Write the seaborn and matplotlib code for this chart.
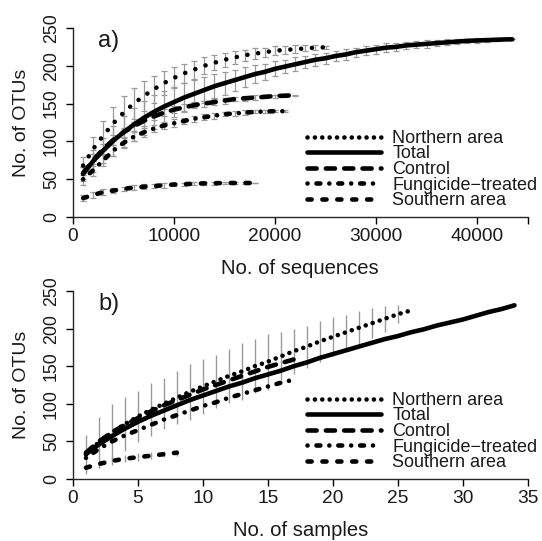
import numpy as np
import pandas as pd
import matplotlib
matplotlib.use("Agg")
import matplotlib.pyplot as plt
from matplotlib.lines import Line2D
import seaborn as sns

# ---- a) OTUs vs. number of sequences (rarefaction) ----
seq_total = list(range(1000, 44000, 1000)) + [43500]
otu_total = [57, 74, 88, 101, 112, 122, 131, 139, 146, 152, 158, 163, 168, 173, 177,
             181, 185, 189, 192, 196, 199, 202, 205, 208, 210, 213, 215, 218, 220, 222,
             224, 225, 227, 228, 229, 230, 231, 232, 233, 233.5, 234, 234.5, 235, 235]
sd_total = [9, 14, 17, 20, 21, 22, 22, 22, 21, 20, 19, 18, 17, 16, 15, 14, 13, 12, 11, 10,
            9, 9, 8, 8, 7, 7, 7, 6, 6, 6, 6, 5, 5, 5, 5, 4, 4, 3, 3, 3, 2, 2, 1, 0]

seq_north = list(range(1000, 26000, 1000))
otu_north = [68, 90, 108, 124, 138, 150, 160, 169, 177, 184, 190, 195, 200, 204, 208,
             211, 214, 216, 218, 220, 221, 222, 223, 224, 224.5]
sd_north = [12, 16, 19, 21, 22, 21, 20, 18, 16, 14, 13, 12, 11, 10, 9, 8, 7, 7, 6, 6,
            5, 5, 4, 3, 2]

seq_control = list(range(1000, 23000, 1000))
otu_control = [58, 75, 90, 102, 112, 120, 127, 133, 138, 142, 145, 148, 150, 152, 154,
               156, 157, 158, 159, 160, 160.5, 161]
sd_control = [8, 8, 7, 7, 6, 6, 6, 5, 5, 5, 5, 4, 4, 4, 4, 3, 3, 3, 2, 2, 2, 1]

seq_fung = list(range(1000, 22000, 1000))
otu_fung = [50, 62, 75, 88, 98, 106, 112, 117, 121, 124, 127, 130, 132, 134, 136,
            137, 138, 139, 139.5, 140, 140]
sd_fung = [8, 8, 7, 7, 6, 6, 6, 5, 5, 5, 4, 4, 4, 4, 3, 3, 3, 2, 2, 1, 1]

seq_south = list(range(1000, 19000, 1000))
otu_south = [25, 29, 33, 35, 37, 39, 40, 41, 42, 43, 43.5, 44, 44.5, 44.7, 45, 45, 45, 45]
sd_south = [4, 4, 4, 3, 3, 3, 3, 3, 3, 2, 2, 2, 2, 2, 1, 1, 1, 0]

# ---- b) OTUs vs. number of samples ----
smp_total = list(range(1, 35))
otub_total = [33, 46, 57, 67, 76, 84, 91, 98, 105, 111, 117, 123, 128, 134, 139, 144, 150,
              155, 161, 166, 171, 176, 181, 186, 190, 195, 199, 204, 208, 212, 217, 222,
              226, 231]

smp_north = list(range(1, 27))
otub_north = [33, 49, 62, 73, 83, 92, 100, 108, 116, 123, 130, 137, 143, 150, 156, 163,
              170, 176, 183, 189, 195, 201, 207, 213, 219, 224]
sdb_north = [26, 34, 38, 36, 34, 35, 34, 35, 37, 36, 35, 36, 38, 36, 37, 32, 30, 28, 27,
             26, 23, 22, 20, 17, 12, np.nan]

smp_control = list(range(1, 18))
otub_control = [35, 50, 62, 72, 81, 90, 98, 105, 112, 119, 125, 131, 137, 143, 149, 154, 159]

smp_fung = list(range(1, 18))
otub_fung = [28, 40, 50, 58, 65, 72, 79, 85, 91, 97, 102, 108, 113, 118, 123, 128, 132]

smp_south = list(range(1, 9))
otub_south = [15, 20, 24, 27, 29, 31, 33, 35]
sdb_south = [5, 5, 5, 5, 5, 5, 4, 4]

groups = ["Northern area", "Total", "Control", "Fungicide\u2212treated", "Southern area"]
dash_map = {
    "Northern area": (0.01, 1.6),
    "Total": "",
    "Control": (2.0, 2.0),
    "Fungicide\u2212treated": (0.01, 1.95, 0.85, 1.95),
    "Southern area": (0.9, 2.35),
}
# in panel a the northern-area points sit at every 1000 sequences
dash_map_a = dict(dash_map)
dash_map_a["Northern area"] = (0.01, 2.35)

sns.set_style("ticks")
plt.rcParams["font.family"] = ["Liberation Sans", "DejaVu Sans"]
plt.rcParams["lines.dash_capstyle"] = "round"
plt.rcParams["lines.solid_capstyle"] = "round"

grey = "#9a9a9a"
ink = "#1a1a1a"
lw = 3.3

fig = plt.figure(figsize=(5.42, 5.41), dpi=100)
ax1 = fig.add_axes([73 / 542, (541 - 217) / 541, 454.5 / 542, 189 / 541])
ax2 = fig.add_axes([73 / 542, (541 - 479) / 541, 454.5 / 542, 188 / 541])


def frame(x, y, name):
    return pd.DataFrame({"x": x, "y": y, "group": name})


df_a = pd.concat([
    frame(seq_north, otu_north, groups[0]),
    frame(seq_total, otu_total, groups[1]),
    frame(seq_control, otu_control, groups[2]),
    frame(seq_fung, otu_fung, groups[3]),
    frame(seq_south, otu_south, groups[4]),
])
df_b = pd.concat([
    frame(smp_north, otub_north, groups[0]),
    frame(smp_total, otub_total, groups[1]),
    frame(smp_control, otub_control, groups[2]),
    frame(smp_fung, otub_fung, groups[3]),
    frame(smp_south, otub_south, groups[4]),
])

# error bars (grey, underneath)
for xs, ys, sd in [(seq_north, otu_north, sd_north), (seq_total, otu_total, sd_total),
                   (seq_control, otu_control, sd_control), (seq_fung, otu_fung, sd_fung),
                   (seq_south, otu_south, sd_south)]:
    ax1.errorbar(xs, ys, yerr=sd, fmt="none", ecolor=grey, elinewidth=0.9,
                 capsize=2.3, capthick=0.9, zorder=1)
ax2.errorbar(smp_north, otub_north, yerr=sdb_north, fmt="none", ecolor=grey,
             elinewidth=1.0, capsize=0, zorder=1)
ax2.errorbar(smp_south, otub_south, yerr=sdb_south, fmt="none", ecolor=grey,
             elinewidth=1.0, capsize=0, zorder=1)

for ax, df, dm in [(ax1, df_a, dash_map_a), (ax2, df_b, dash_map)]:
    sns.lineplot(data=df, x="x", y="y", style="group", style_order=groups,
                 dashes=dm, color="black", linewidth=lw, estimator=None,
                 sort=False, legend=False, ax=ax, zorder=3)

handles = []
for g in groups:
    h = Line2D([0], [0], color="black", lw=lw)
    if dash_map[g]:
        h.set_dashes(dash_map[g])
    handles.append(h)

for ax, label, xlab in [(ax1, "a)", "No. of sequences"), (ax2, "b)", "No. of samples")]:
    ax.set_ylim(0, 250)
    ax.set_yticks([0, 50, 100, 150, 200, 250])
    for s in ["top", "right"]:
        ax.spines[s].set_visible(False)
    for s in ["left", "bottom"]:
        ax.spines[s].set_linewidth(1.0)
    ax.tick_params(axis="both", direction="out", length=5, width=1.0, pad=3,
                   color="black", labelcolor=ink)
    ax.tick_params(axis="x", labelsize=13.8)
    ax.tick_params(axis="y", labelsize=12.8, pad=4.5)
    for t in ax.get_yticklabels():
        t.set_rotation(90)
        t.set_va("center")
    ax.set_xlabel(xlab, fontsize=14.6, labelpad=10, color=ink)
    ax.set_ylabel("No. of OTUs", fontsize=14, labelpad=9, color=ink)
    ax.text(0.055, 0.93, label, transform=ax.transAxes, fontsize=17, va="center",
            ha="left", color=ink)
    leg = ax.legend(handles, groups, loc="lower left", bbox_to_anchor=(0.488, -0.025),
                    frameon=False, fontsize=13.0, handlelength=4.05, handletextpad=0.65,
                    labelspacing=-0.08, borderpad=0.2)
    for t in leg.get_texts():
        t.set_color(ink)

ax1.set_xlim(0, 45000)
ax1.set_xticks([0, 10000, 20000, 30000, 40000, 45000])
ax1.set_xticklabels(["0", "10000", "20000", "30000", "40000", ""])
ax2.set_xlim(0, 35)
ax2.set_xticks([0, 5, 10, 15, 20, 25, 30, 35])

fig.savefig("out.png", dpi=100)
